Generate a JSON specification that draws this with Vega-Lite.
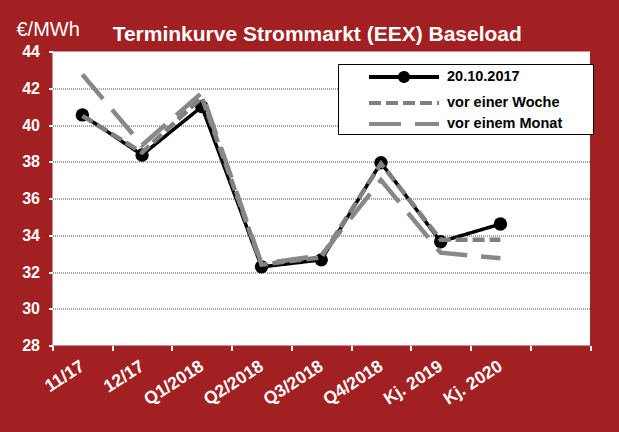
{
  "$schema": "https://vega.github.io/schema/vega-lite/v6.json",
  "autosize": {"type": "none"},
  "padding": {"left": 52.5, "top": 51.5, "right": 29, "bottom": 86.5},
  "width": 537.5,
  "height": 294,
  "background": "#A21F22",
  "title": {
    "text": "Terminkurve Strommarkt (EEX) Baseload",
    "font": "Liberation Sans",
    "fontSize": 21,
    "fontWeight": "bold",
    "color": "white",
    "anchor": "middle",
    "frame": "group",
    "baseline": "alphabetic",
    "dx": -4,
    "offset": -43
  },
  "config": {
    "view": {"fill": "white", "stroke": null},
    "axis": {"labelFont": "Liberation Sans", "titleFont": "Liberation Sans"}
  },
  "data": {
    "values": [
      {"kat": "11/17", "serie": "20.10.2017", "wert": 40.55},
      {"kat": "12/17", "serie": "20.10.2017", "wert": 38.37},
      {"kat": "Q1/2018", "serie": "20.10.2017", "wert": 41.0},
      {"kat": "Q2/2018", "serie": "20.10.2017", "wert": 32.28},
      {"kat": "Q3/2018", "serie": "20.10.2017", "wert": 32.66},
      {"kat": "Q4/2018", "serie": "20.10.2017", "wert": 37.95},
      {"kat": "Kj. 2019", "serie": "20.10.2017", "wert": 33.65},
      {"kat": "Kj. 2020", "serie": "20.10.2017", "wert": 34.61},
      {"kat": "11/17", "serie": "vor einer Woche", "wert": 40.5},
      {"kat": "12/17", "serie": "vor einer Woche", "wert": 38.5},
      {"kat": "Q1/2018", "serie": "vor einer Woche", "wert": 41.5},
      {"kat": "Q2/2018", "serie": "vor einer Woche", "wert": 32.4},
      {"kat": "Q3/2018", "serie": "vor einer Woche", "wert": 32.8},
      {"kat": "Q4/2018", "serie": "vor einer Woche", "wert": 37.9},
      {"kat": "Kj. 2019", "serie": "vor einer Woche", "wert": 33.75},
      {"kat": "Kj. 2020", "serie": "vor einer Woche", "wert": 33.75},
      {"kat": "11/17", "serie": "vor einem Monat", "wert": 42.75},
      {"kat": "12/17", "serie": "vor einem Monat", "wert": 38.9},
      {"kat": "Q1/2018", "serie": "vor einem Monat", "wert": 41.75},
      {"kat": "Q2/2018", "serie": "vor einem Monat", "wert": 32.45},
      {"kat": "Q3/2018", "serie": "vor einem Monat", "wert": 32.9},
      {"kat": "Q4/2018", "serie": "vor einem Monat", "wert": 37.0},
      {"kat": "Kj. 2019", "serie": "vor einem Monat", "wert": 33.05},
      {"kat": "Kj. 2020", "serie": "vor einem Monat", "wert": 32.75}
    ]
  },
  "encoding": {
    "x": {
      "field": "kat",
      "type": "nominal",
      "sort": null,
      "scale": {
        "type": "band",
        "domain": ["11/17", "12/17", "Q1/2018", "Q2/2018", "Q3/2018", "Q4/2018", "Kj. 2019", "Kj. 2020", ""],
        "paddingInner": 0,
        "paddingOuter": 0
      },
      "axis": {
        "title": null,
        "domain": false,
        "grid": false,
        "tickBand": "extent",
        "ticks": true,
        "tickColor": "white",
        "tickSize": 5,
        "tickWidth": 2,
        "labelAngle": -33,
        "labelAlign": "right",
        "labelBaseline": "middle",
        "labelPadding": 14,
        "labelColor": "white",
        "labelFontSize": 17.5,
        "labelFontWeight": "bold"
      }
    },
    "y": {
      "field": "wert",
      "type": "quantitative",
      "scale": {"domain": [28, 44], "nice": false, "zero": false},
      "axis": {
        "values": [28, 30, 32, 34, 36, 38, 40, 42, 44],
        "title": "€/MWh",
        "titleAngle": 0,
        "titleAlign": "left",
        "titleBaseline": "alphabetic",
        "titleX": -36.5,
        "titleY": -16.5,
        "titleColor": "white",
        "titleFontSize": 20,
        "titleFontWeight": "normal",
        "domain": false,
        "tickColor": "white",
        "tickSize": 4,
        "tickWidth": 2,
        "labelPadding": 9,
        "labelColor": "white",
        "labelFontSize": 16,
        "labelFontWeight": "bold",
        "grid": true,
        "gridColor": "#444444",
        "gridDash": [1, 1],
        "gridWidth": 1,
        "gridOpacity": {"condition": {"test": "datum.value == 28 || datum.value == 44", "value": 0}, "value": 1}
      }
    },
    "color": {
      "field": "serie",
      "type": "nominal",
      "scale": {
        "domain": ["20.10.2017", "vor einer Woche", "vor einem Monat"],
        "range": ["#000000", "#808080", "#888888"]
      },
      "legend": {
        "orient": "none",
        "legendX": 285.5,
        "legendY": 12.5,
        "title": null,
        "fillColor": "white",
        "strokeColor": "black",
        "padding": 2,
        "symbolOffset": 27,
        "symbolSize": 324,
        "symbolType": "M-1,0L6.78,0",
        "symbolStrokeWidth": 4,
        "labelOffset": 58,
        "labelFont": "Liberation Sans",
        "labelFontWeight": "bold",
        "labelFontSize": 14.5,
        "labelColor": "black",
        "rowPadding": 2,
        "labelExpr": "datum.label + '       \u200b'",
        "encode": {
          "symbols": {
            "update": {
              "shape": {"signal": "datum.value === '20.10.2017' ? 'M-1,0L6.78,0M3.33,0A0.444,0.444 0 1,1 2.44,0A0.444,0.444 0 1,1 3.33,0Z' : 'M-1,0L6.78,0'"},
              "fill": {"signal": "datum.value === '20.10.2017' ? 'black' : 'transparent'"}
            }
          }
        }
      }
    },
    "strokeDash": {
      "field": "serie",
      "type": "nominal",
      "scale": {
        "domain": ["20.10.2017", "vor einer Woche", "vor einem Monat"],
        "range": [[1, 0], [12, 5], [32, 14]]
      },
      "legend": {
        "orient": "none",
        "legendX": 285.5,
        "legendY": 12.5,
        "title": null,
        "fillColor": "white",
        "strokeColor": "black",
        "padding": 2,
        "symbolOffset": 27,
        "symbolSize": 324,
        "symbolType": "M-1,0L6.78,0",
        "symbolStrokeWidth": 4,
        "labelOffset": 58,
        "labelFont": "Liberation Sans",
        "labelFontWeight": "bold",
        "labelFontSize": 14.5,
        "labelColor": "black",
        "rowPadding": 2,
        "labelExpr": "datum.label + '       \u200b'",
        "encode": {
          "symbols": {
            "update": {
              "shape": {"signal": "datum.value === '20.10.2017' ? 'M-1,0L6.78,0M3.33,0A0.444,0.444 0 1,1 2.44,0A0.444,0.444 0 1,1 3.33,0Z' : 'M-1,0L6.78,0'"},
              "fill": {"signal": "datum.value === '20.10.2017' ? 'black' : 'transparent'"}
            }
          }
        }
      }
    }
  },
  "layer": [
    {
      "transform": [{"filter": "datum.serie === '20.10.2017'"}],
      "mark": {"type": "line", "strokeWidth": 3.5, "strokeCap": "butt"}
    },
    {
      "transform": [{"filter": "datum.serie === '20.10.2017'"}],
      "mark": {"type": "point", "filled": true, "size": 180, "opacity": 1, "color": "black", "shape": "circle"},
      "encoding": {"strokeDash": {"value": [1, 0]}, "color": {"value": "black"}}
    },
    {
      "transform": [{"filter": "datum.serie === 'vor einer Woche'"}],
      "mark": {"type": "line", "strokeWidth": 4.5, "strokeCap": "butt"}
    },
    {
      "transform": [{"filter": "datum.serie === 'vor einem Monat'"}],
      "mark": {"type": "line", "strokeWidth": 4.5, "strokeCap": "butt"}
    }
  ]
}
